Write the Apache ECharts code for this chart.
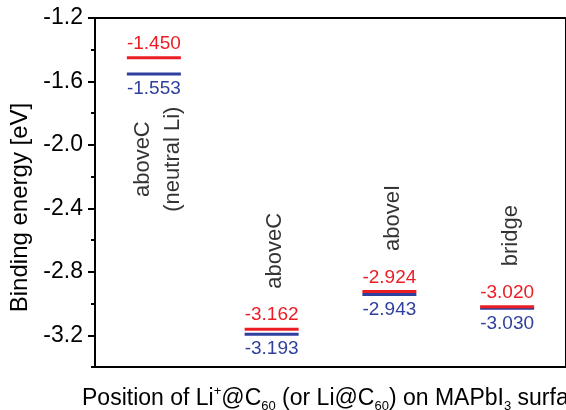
<!DOCTYPE html>
<html>
<head>
<meta charset="utf-8">
<title>Binding energy</title>
<script src="https://cdn.jsdelivr.net/npm/echarts@6/dist/echarts.min.js"></script>
<style>
  html, body { margin: 0; padding: 0; background: #fff; }
  #chart { width: 566px; height: 410px; }
</style>
</head>
<body>
<div id="chart"></div>
<script>
// adsorption sites along the x axis
var sites = ['aboveC (neutral Li)', 'aboveC', 'aboveI', 'bridge'];
var siteLabels = ['aboveC\n(neutral Li)', 'aboveC', 'aboveI', 'bridge'];
// binding energies [eV], red and blue levels
var redLevels = [-1.450, -3.162, -2.924, -3.020];
var blueLevels = [-1.553, -3.193, -2.943, -3.030];
// y axis ticks
var yMajorTicks = [-1.2, -1.6, -2.0, -2.4, -2.8, -3.2];
var yMinorTicks = [-1.4, -1.8, -2.2, -2.6, -3.0, -3.4];

var RED = '#ec1c24';
var BLUE = '#2e3f9e';
var FONT = '"Liberation Sans", Arial, sans-serif';

var chart = echarts.init(document.getElementById('chart'));

var levelSeries = function (vals, color, pos, dist) {
  return {
    type: 'scatter',
    silent: true,
    symbol: 'rect',
    symbolSize: [54, 3],
    itemStyle: { color: color, opacity: 1 },
    label: {
      show: true,
      position: pos,
      distance: dist,
      color: color,
      fontFamily: FONT,
      fontSize: 19,
      formatter: function (p) { return p.value[1].toFixed(3); }
    },
    data: vals.map(function (v, i) { return [sites[i], v]; })
  };
};

// site names, rotated, anchored on the red level
var nameData = redLevels.map(function (v, i) {
  var item = { value: [sites[i], v] };
  if (i === 0) {
    item.label = { position: [5, 102], align: 'center', verticalAlign: 'middle' };
  }
  return item;
});

var txt = { fontFamily: FONT, fontWeight: 'normal', color: '#000' };

var option = {
  animation: false,
  textStyle: { fontFamily: FONT },
  title: {
    left: 82,
    top: 385,
    padding: 0,
    text: '{t|Position of Li}{sup|+}{t|@C}{sub|60}{t| (or Li@C}{sub|60}{t|) on MAPbI}{sub|3}{t| surface}',
    textStyle: {
      fontWeight: 'normal',
      rich: {
        t: Object.assign({ fontSize: 23, lineHeight: 28 }, txt),
        sup: Object.assign({ fontSize: 13, verticalAlign: 'top', lineHeight: 28 }, txt),
        sub: Object.assign({ fontSize: 13, verticalAlign: 'bottom', lineHeight: 24 }, txt)
      }
    }
  },
  grid: {
    left: 95, top: 18, width: 480, height: 349,
    show: true, borderColor: '#000', borderWidth: 2, backgroundColor: 'transparent'
  },
  xAxis: [{
    type: 'category',
    data: sites,
    position: 'bottom',
    axisLine: { lineStyle: { color: '#000', width: 2 } },
    axisTick: { alignWithLabel: true, length: 6, lineStyle: { color: '#000', width: 2 } },
    axisLabel: { show: false },
    splitLine: { show: false }
  }, {
    type: 'category',
    data: sites,
    position: 'bottom',
    axisLine: { show: false },
    axisTick: { length: 3, lineStyle: { color: '#000', width: 2 } },
    axisLabel: { show: false },
    splitLine: { show: false }
  }],
  yAxis: [{
    type: 'value',
    min: -3.4,
    max: -1.2,
    name: 'Binding energy [eV]',
    nameLocation: 'middle',
    nameGap: 56,
    nameTextStyle: { fontFamily: FONT, fontSize: 24, color: '#000', padding: [0, 30, 0, 0] },
    axisLine: { show: true, lineStyle: { color: '#000', width: 2 } },
    axisTick: { show: true, length: 7, customValues: yMajorTicks, lineStyle: { color: '#000', width: 2 } },
    axisLabel: {
      customValues: yMajorTicks,
      margin: 12,
      fontFamily: FONT,
      fontSize: 23,
      color: '#000',
      formatter: function (v) { return v.toFixed(1); }
    },
    splitLine: { show: false }
  }, {
    type: 'value',
    min: -3.4,
    max: -1.2,
    position: 'left',
    axisLine: { show: false },
    axisTick: { show: true, length: 4, customValues: yMinorTicks, lineStyle: { color: '#000', width: 2 } },
    axisLabel: { show: false },
    splitLine: { show: false }
  }],
  series: [
    levelSeries(blueLevels, BLUE, 'bottom', 4),
    levelSeries(redLevels, RED, 'top', 3),
    {
      type: 'scatter',
      silent: true,
      symbolSize: 1,
      itemStyle: { color: 'rgba(0,0,0,0)' },
      label: {
        show: true,
        position: [4, -40],
        rotate: 90,
        align: 'left',
        verticalAlign: 'middle',
        color: '#000',
        fontFamily: FONT,
        fontSize: 22,
        lineHeight: 30,
        formatter: function (p) { return siteLabels[p.dataIndex]; }
      },
      data: nameData
    }
  ]
};

chart.setOption(option);
</script>
</body>
</html>
